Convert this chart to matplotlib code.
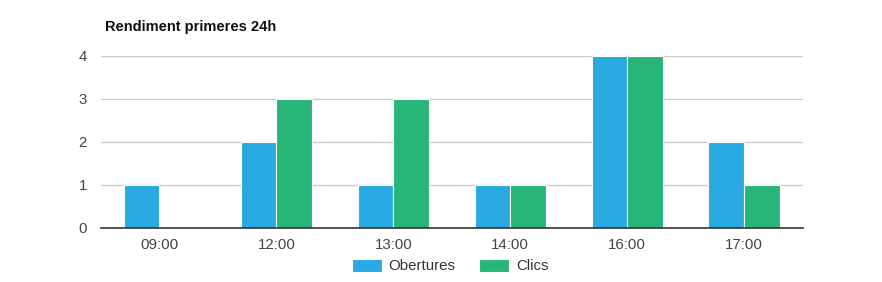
import matplotlib.pyplot as plt
import numpy as np

plt.rcParams['font.family'] = ['Liberation Sans', 'DejaVu Sans']

# data
hours = ['09:00', '12:00', '13:00', '14:00', '16:00', '17:00']
obertures = [1, 2, 1, 1, 4, 2]
clics = [0, 3, 3, 1, 4, 1]

blue = '#29a9e1'
green = '#27b677'

fig = plt.figure(figsize=(8.82, 2.82), dpi=100)
ax = fig.add_axes([0.1145, 0.1915, 0.7955, 0.61])

x = np.arange(len(hours))
w = 0.305
ax.bar(x - w/2, obertures, w, color=blue, edgecolor='white', linewidth=0.8, label='Obertures', zorder=3)
ax.bar(x + w/2, clics, w, color=green, edgecolor='white', linewidth=0.8, label='Clics', zorder=3)

ax.set_xlim(-0.5, len(hours) - 0.5)
ax.set_ylim(0, 4)
ax.set_yticks([0, 1, 2, 3, 4])
ax.set_xticks(x)
ax.set_xticklabels(hours)
ax.tick_params(length=0, labelsize=10.8, colors='#444444', pad=7)
ax.tick_params(axis='y', pad=10)
ax.grid(axis='y', color='#cccccc', linewidth=1, zorder=0)
for s in ['top', 'right', 'left']:
    ax.spines[s].set_visible(False)
ax.spines['bottom'].set_color('#333333')
ax.spines['bottom'].set_linewidth(1.2)
ax.spines['bottom'].set_zorder(4)

fig.text(105/882, 1 - 27/282, 'Rendiment primeres 24h', fontsize=10.5, fontweight='bold',
         va='center', ha='left', color='#111111')

fig.legend(loc='center', bbox_to_anchor=(450/882, 1 - 266/282), ncol=2, frameon=False,
           fontsize=10.8, handlelength=2.0, handleheight=0.95, columnspacing=1.6,
           handletextpad=0.45, labelcolor='#333333')

fig.savefig('out.png', dpi=100)
